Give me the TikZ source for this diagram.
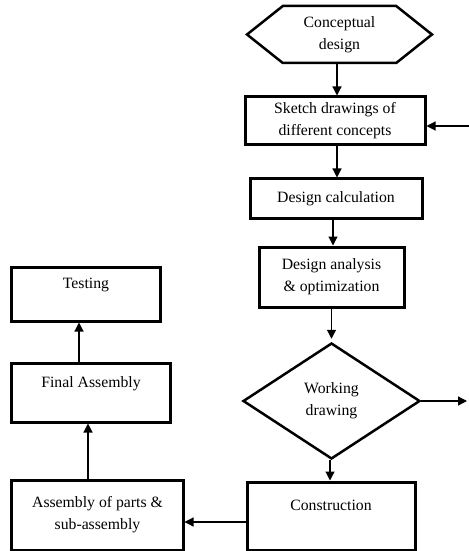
\documentclass[tikz,border=0pt]{standalone}
\usepackage{fontspec}
\setmainfont{Liberation Serif}
\usetikzlibrary{arrows.meta, shapes.geometric, shapes.symbols, calc}
\usetikzlibrary{positioning}

\begin{document}
\begin{tikzpicture}[x=1bp, y=-1bp,
    every node/.style={font=\fontsize{15.8}{22}\selectfont, align=center},
    box/.style={draw, line width=3bp, inner sep=0pt},
    link/.style={line width=1.2bp, -{Triangle[length=9bp,width=9bp]}}]
    \useasboundingbox (0,0) rectangle (469,551);
    \node[signal, signal to=west and east, signal pointer angle=77, draw, line width=2.5bp,
          minimum width=185bp, minimum height=57bp, inner sep=0pt] at (339.5,34.5) (CONCEPT) {Conceptual\\design};
	\node[box, minimum width=180bp, minimum height=48bp] at (335,121) (SKETCH) {Sketch drawings of\\different concepts};
	\node[box, minimum width=172bp, minimum height=39bp] at (336,198.5) (CALC) {Design calculation};
	\node[box, minimum width=145bp, minimum height=60bp] at (331.5,277) (ANALYSIS) {Design analysis\\\& optimization};
	\node[diamond, draw, line width=2.5bp, minimum width=177bp, minimum height=116bp, inner sep=0pt] at (331.5,401) (WORKING) {Working\\drawing};
	\node[box, minimum width=168bp, minimum height=68bp] at (331,516) (CONSTR) {Construction\\\mbox{}};
	\node[box, minimum width=171bp, minimum height=70bp] at (97.5,515) (ASSEMBLY) {Assembly of parts \&\\sub-assembly};
	\node[box, minimum width=158bp, minimum height=59bp] at (91,392.5) (FINAL) {Final Assembly\\\mbox{}};
	\node[box, minimum width=148bp, minimum height=54bp] at (86,294) (TEST) {Testing\\\mbox{}};
	\coordinate (IN) at (469,126);
	\coordinate (OUT) at (467,401);
	\draw[link] ([xshift=-2.5bp]CONCEPT.south) -- ([xshift=-2.5bp]CONCEPT.south |- SKETCH.north);
	\draw[link] (IN) -- (IN -| SKETCH.east);
	\draw[link] ([xshift=2bp]SKETCH.south) -- ([xshift=2bp]SKETCH.south |- CALC.north);
	\draw[link] ([xshift=-3bp]CALC.south) -- ([xshift=-3bp]CALC.south |- ANALYSIS.north);
	\draw[link] (ANALYSIS.south) -- ([yshift=3bp]WORKING.north);
	\draw[link] (WORKING.east) -- (OUT);
	\draw[link] ([xshift=-1.5bp]WORKING.south) -- ([xshift=-1.5bp]WORKING.south |- CONSTR.north);
	\draw[link] ([yshift=-6bp]CONSTR.west) -- ([yshift=-6bp]CONSTR.west -| ASSEMBLY.east);
	\draw[link] ([xshift=-9.5bp]ASSEMBLY.north) -- ([xshift=-9.5bp]ASSEMBLY.north |- FINAL.south);
	\draw[link] ([xshift=-12bp]FINAL.north) -- ([xshift=-12bp]FINAL.north |- TEST.south);
\end{tikzpicture}
\end{document}
